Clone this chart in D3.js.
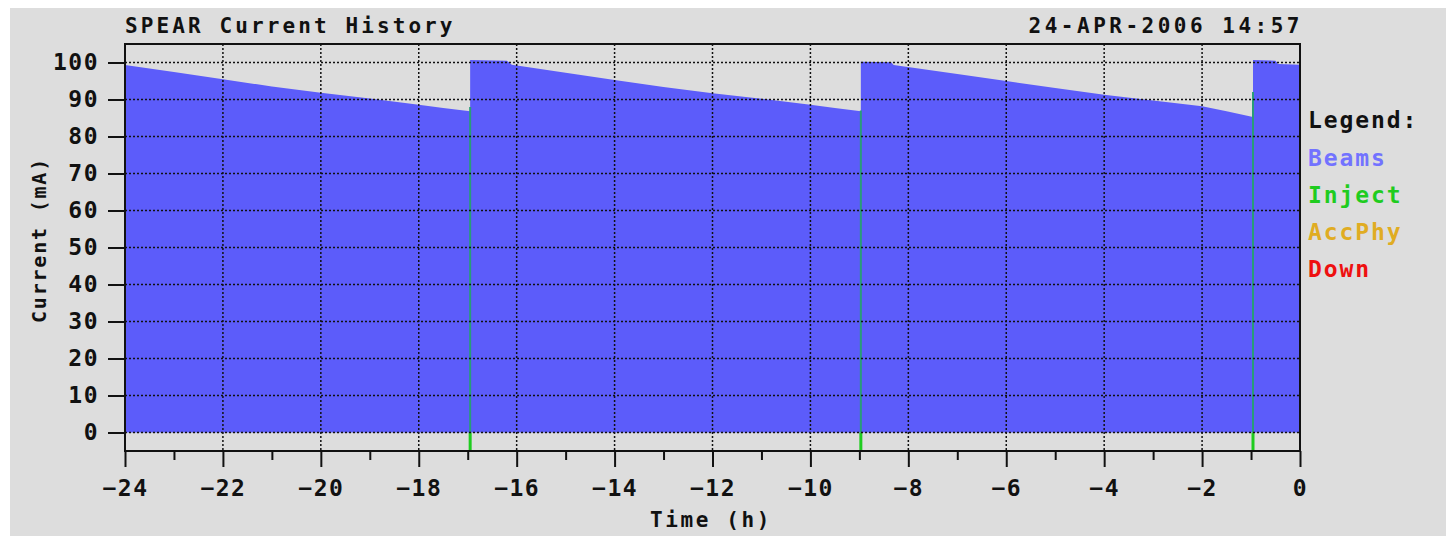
<!DOCTYPE html>
<html>
<head>
<meta charset="utf-8">
<script src="https://cdn.jsdelivr.net/npm/d3@7"></script>
<style>
  body { margin: 0; background: #fff; }
  svg text { font-family: "DejaVu Sans Mono", monospace; font-weight: bold; }
</style>
</head>
<body>
<div id="chart"></div>
<script>
// beam current (hours before now, mA)
var beamTime = [-24, -23, -22, -21, -20, -19, -18, -17.5, -16.95,
    -16.95, -16.2, -16.1, -15, -14, -13, -12, -11, -10, -9.5, -8.97,
    -8.97, -8.35, -8.3, -7, -6, -5, -4, -3, -2, -1.5, -0.96,
    -0.96, -0.5, -0.45, 0];
var beamCurrent = [99.3, 97.4, 95.5, 93.5, 91.8, 90.3, 88.6, 87.7, 86.8,
    100.7, 100.5, 99.4, 97.2, 95.3, 93.4, 91.7, 90.2, 88.6, 87.7, 86.8,
    100.2, 100.1, 99.3, 96.9, 95.0, 93.1, 91.3, 89.7, 88.2, 86.8, 85.3,
    100.7, 100.5, 99.6, 99.4];

var injectTime = [-16.95, -8.97, -0.96];
var injectTop = [88, 87, 92];

var yTicks = [0, 10, 20, 30, 40, 50, 60, 70, 80, 90, 100];
var xTicks = [-24, -22, -20, -18, -16, -14, -12, -10, -8, -6, -4, -2, 0];
var xMinor = [-23, -21, -19, -17, -15, -13, -11, -9, -7, -5, -3, -1];

var legendNames = ['Beams', 'Inject', 'AccPhy', 'Down'];
var legendColors = ['#7272ff', '#1fcc1f', '#e0ac22', '#ee1010'];

var W = 1446, H = 536;
var svg = d3.select('#chart').append('svg').attr('width', W).attr('height', H);

svg.append('rect').attr('x', 10).attr('y', 8).attr('width', W - 10).attr('height', H - 8)
    .attr('fill', '#dddddd');

var x = d3.scaleLinear().domain([-24, 0]).range([125, 1300]);
var y = d3.scaleLinear().domain([-5, 105]).range([451, 44]);

var beams = beamTime.map(function(t, i) { return {t: t, v: beamCurrent[i]}; });

// filled beam area
var area = d3.area()
    .x(function(d) { return x(d.t); })
    .y0(y(0))
    .y1(function(d) { return y(d.v); });
svg.append('path').datum(beams).attr('d', area).attr('fill', '#5c5cfa');

// inject markers
injectTime.forEach(function(t, i) {
    svg.append('line').attr('x1', x(t)).attr('x2', x(t))
        .attr('y1', y(injectTop[i])).attr('y2', y(0))
        .attr('stroke', '#2a9c78').attr('stroke-width', 2);
    svg.append('line').attr('x1', x(t)).attr('x2', x(t))
        .attr('y1', y(0)).attr('y2', y(-5))
        .attr('stroke', '#1fcc1f').attr('stroke-width', 3);
});

// grid
var grid = svg.append('g').attr('stroke', '#111').attr('stroke-width', 1.5)
    .attr('stroke-dasharray', '2,2');
yTicks.forEach(function(v) {
    grid.append('line').attr('x1', x(-24)).attr('x2', x(0)).attr('y1', y(v)).attr('y2', y(v));
});
xTicks.slice(1, -1).forEach(function(t) {
    grid.append('line').attr('x1', x(t)).attr('x2', x(t)).attr('y1', y(105)).attr('y2', y(-5));
});

// axes
var yAxis = svg.append('g').attr('transform', 'translate(' + x(-24) + ',0)')
    .call(d3.axisLeft(y).tickValues(yTicks).tickSize(17).tickPadding(9));
var xAxis = svg.append('g').attr('transform', 'translate(0,' + y(-5) + ')')
    .call(d3.axisBottom(x).tickValues(xTicks).tickSize(16).tickPadding(13));
var xAxisMinor = svg.append('g').attr('transform', 'translate(0,' + y(-5) + ')')
    .call(d3.axisBottom(x).tickValues(xMinor).tickSize(9).tickFormat(''));

[yAxis, xAxis, xAxisMinor].forEach(function(a) {
    a.select('.domain').remove();
    a.selectAll('.tick line').attr('stroke', '#111').attr('stroke-width', 2);
    a.selectAll('.tick text').attr('fill', '#111').style('font-size', '23px')
        .style('letter-spacing', '1.5px');
});
xAxis.selectAll('.tick text').attr('dy', '0.71em');
yAxis.selectAll('.tick text').attr('dy', '0.3em');

// frame
svg.append('rect').attr('x', x(-24)).attr('y', y(105))
    .attr('width', x(0) - x(-24)).attr('height', y(-5) - y(105))
    .attr('fill', 'none').attr('stroke', '#111').attr('stroke-width', 2);

// titles
svg.append('text').attr('x', 125).attr('y', 33).text('SPEAR Current History')
    .style('font-size', '21px').style('letter-spacing', '3.1px').attr('fill', '#111');
svg.append('text').attr('x', 1303).attr('y', 33).attr('text-anchor', 'end')
    .text('24-APR-2006 14:57')
    .style('font-size', '21px').style('letter-spacing', '3.5px').attr('fill', '#111');

svg.append('text').attr('x', 711).attr('y', 527).attr('text-anchor', 'middle')
    .text('Time (h)').style('font-size', '21px').style('letter-spacing', '2.6px').attr('fill', '#111');
svg.append('text').attr('transform', 'translate(46,240) rotate(-90)').attr('text-anchor', 'middle')
    .text('Current (mA)').style('font-size', '20px').style('letter-spacing', '1.8px').attr('fill', '#111');

// legend
svg.append('text').attr('x', 1308).attr('y', 128).text('Legend:')
    .style('font-size', '23px').style('letter-spacing', '1.9px').attr('fill', '#111');
legendNames.forEach(function(n, i) {
    svg.append('text').attr('x', 1308).attr('y', 166 + i * 37).text(n)
        .style('font-size', '23px').style('letter-spacing', '1.9px').attr('fill', legendColors[i]);
});
</script>
</body>
</html>
